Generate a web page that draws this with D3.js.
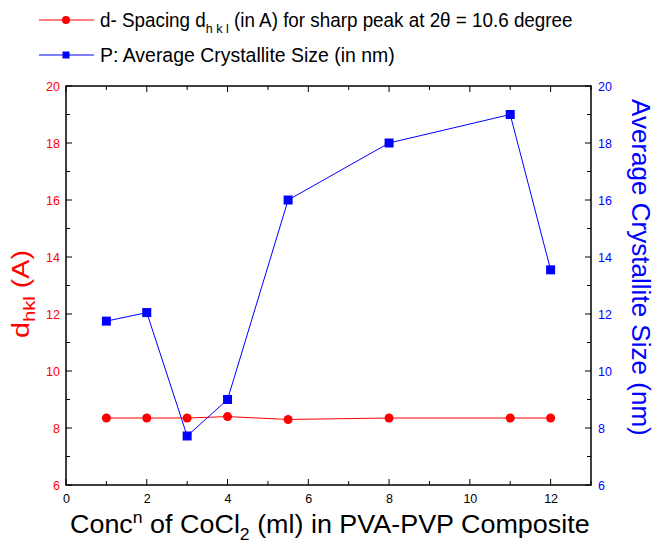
<!DOCTYPE html>
<html><head><meta charset="utf-8">
<script src="https://cdn.jsdelivr.net/npm/d3@7"></script>
<style>body{margin:0;background:#fff;} svg{display:block;font-family:"Liberation Sans",Arial,sans-serif;}</style>
</head><body>
<svg id="c" width="656" height="543"></svg>
<script>
const conc = [1, 2, 3, 4, 5.5, 8, 11, 12];
const dSpacing = [8.35, 8.35, 8.35, 8.4, 8.3, 8.35, 8.35, 8.35];
const crystSize = [11.75, 12.05, 7.72, 9.0, 16.0, 18.0, 19.0, 13.55];
const xTicks = [0, 2, 4, 6, 8, 10, 12];
const yTicks = [6, 8, 10, 12, 14, 16, 18, 20];

const svg = d3.select("#c");
const L = 66, R = 591, T = 86, B = 485;
const x = d3.scaleLinear().domain([0, 13]).range([L, R]);
const yL = d3.scaleLinear().domain([6, 20]).range([B, T]);
const yR = d3.scaleLinear().domain([6, 20]).range([B, T]);

const RED = "#ff0000", BLUE = "#0000ff";

// horizontally fit a text element (in its own frame) to a target length
function fit(g, target) {
  const w = g.node().getBBox().width;
  const s = target / w;
  return s;
}

// frame
svg.append("rect").attr("x", L).attr("y", T).attr("width", R - L).attr("height", B - T)
  .attr("fill", "none").attr("stroke", "#000").attr("stroke-width", 1.5);

const minorX = d3.range(0, 13.01, 1);
const minorY = d3.range(6, 20.01, 1);

// bottom axis labels
const gx = svg.append("g").attr("transform", `translate(0,${B})`)
  .call(d3.axisBottom(x).tickValues(xTicks).tickSize(0).tickPadding(9).tickFormat(d3.format("d")));
gx.select(".domain").remove();
gx.selectAll("text").attr("font-size", 12.5).attr("fill", "#000");

// inward ticks on all four sides
const tickG = svg.append("g").attr("stroke", "#000").attr("stroke-width", 1);
minorX.forEach(v => {
  const len = (v % 2 === 0) ? 6 : 4;
  tickG.append("line").attr("x1", x(v)).attr("x2", x(v)).attr("y1", B).attr("y2", B - len);
  tickG.append("line").attr("x1", x(v)).attr("x2", x(v)).attr("y1", T).attr("y2", T + len);
});
minorY.forEach(v => {
  const len = (v % 2 === 0) ? 6 : 4;
  tickG.append("line").attr("x1", L).attr("x2", L + len).attr("y1", yL(v)).attr("y2", yL(v));
  tickG.append("line").attr("x1", R).attr("x2", R - len).attr("y1", yR(v)).attr("y2", yR(v));
});

// left axis labels
const gl = svg.append("g").attr("transform", `translate(${L},0)`)
  .call(d3.axisLeft(yL).tickValues(yTicks).tickSize(0).tickPadding(6).tickFormat(d3.format("d")));
gl.select(".domain").remove();
gl.selectAll("text").attr("font-size", 12.5).attr("fill", RED);

// right axis labels
const gr = svg.append("g").attr("transform", `translate(${R},0)`)
  .call(d3.axisRight(yR).tickValues(yTicks).tickSize(0).tickPadding(7).tickFormat(d3.format("d")));
gr.select(".domain").remove();
gr.selectAll("text").attr("font-size", 12.5).attr("fill", BLUE);

// lines
const lineL = d3.line().x((d, i) => x(conc[i])).y(d => yL(d));
const lineR = d3.line().x((d, i) => x(conc[i])).y(d => yR(d));
svg.append("path").attr("d", lineL(dSpacing)).attr("fill", "none").attr("stroke", RED).attr("stroke-width", 1);
svg.append("path").attr("d", lineR(crystSize)).attr("fill", "none").attr("stroke", BLUE).attr("stroke-width", 1);

svg.append("g").selectAll("circle").data(dSpacing).join("circle")
  .attr("cx", (d, i) => x(conc[i])).attr("cy", d => yL(d)).attr("r", 4.5).attr("fill", RED);
svg.append("g").selectAll("rect").data(crystSize).join("rect")
  .attr("x", (d, i) => x(conc[i]) - 4.5).attr("y", d => yR(d) - 4.5)
  .attr("width", 9).attr("height", 9).attr("fill", BLUE);

// x axis title
const xg = svg.append("g");
const xt = xg.append("text").attr("x", 0).attr("y", 0).attr("text-anchor", "start")
  .attr("font-size", 26).attr("fill", "#000");
xt.append("tspan").text("Conc");
xt.append("tspan").attr("dy", -10).attr("font-size", 17).text("n");
xt.append("tspan").attr("dy", 10).text(" of CoCl");
xt.append("tspan").attr("dy", 7).attr("font-size", 17).text("2");
xt.append("tspan").attr("dy", -7).text(" (ml) in PVA-PVP Composite");
{
  const s = fit(xt, 520);
  xg.attr("transform", `translate(70,533) scale(${s},1)`);
}

// left title
const lgT = svg.append("g");
const yt = lgT.append("text").attr("x", 0).attr("y", 0).attr("text-anchor", "start")
  .attr("font-size", 24).attr("fill", RED);
yt.append("tspan").text("d");
yt.append("tspan").attr("dy", 6).attr("font-size", 17).text("hkl");
yt.append("tspan").attr("dy", -6).text(" (A)");
{
  const s = fit(yt, 88);
  lgT.attr("transform", `translate(29,338) rotate(-90) scale(${s},1)`);
}

// right title
const rgT = svg.append("g");
const rt = rgT.append("text").attr("x", 0).attr("y", 0).attr("text-anchor", "start")
  .attr("font-size", 26).attr("fill", BLUE).text("Average Crystallite Size (nm)");
{
  const s = fit(rt, 337);
  rgT.attr("transform", `translate(632,99) rotate(90) scale(${s},1)`);
}

// legend
const lg = svg.append("g");
lg.append("line").attr("x1", 39).attr("x2", 94).attr("y1", 20).attr("y2", 20).attr("stroke", RED).attr("stroke-width", 1);
lg.append("circle").attr("cx", 66).attr("cy", 20).attr("r", 4).attr("fill", RED);
lg.append("line").attr("x1", 39).attr("x2", 94).attr("y1", 55).attr("y2", 55).attr("stroke", BLUE).attr("stroke-width", 1);
lg.append("rect").attr("x", 62.5).attr("y", 51.5).attr("width", 7).attr("height", 7).attr("fill", BLUE);

const l1 = lg.append("g");
const t1 = l1.append("text").attr("x", 0).attr("y", 0).attr("font-size", 19.5).attr("fill", "#000");
t1.append("tspan").text("d- Spacing d");
t1.append("tspan").attr("dy", 6).attr("font-size", 13).text("h k l");
t1.append("tspan").attr("dy", -6).text(" (in A) for sharp peak at 2θ = 10.6 degree");
l1.attr("transform", `translate(100,27) scale(${fit(t1, 473)},1)`);

const l2 = lg.append("g");
const t2 = l2.append("text").attr("x", 0).attr("y", 0).attr("font-size", 19.5).attr("fill", "#000")
  .text("P: Average Crystallite Size (in nm)");
l2.attr("transform", `translate(100,62) scale(${fit(t2, 295)},1)`);
</script>
</body></html>
